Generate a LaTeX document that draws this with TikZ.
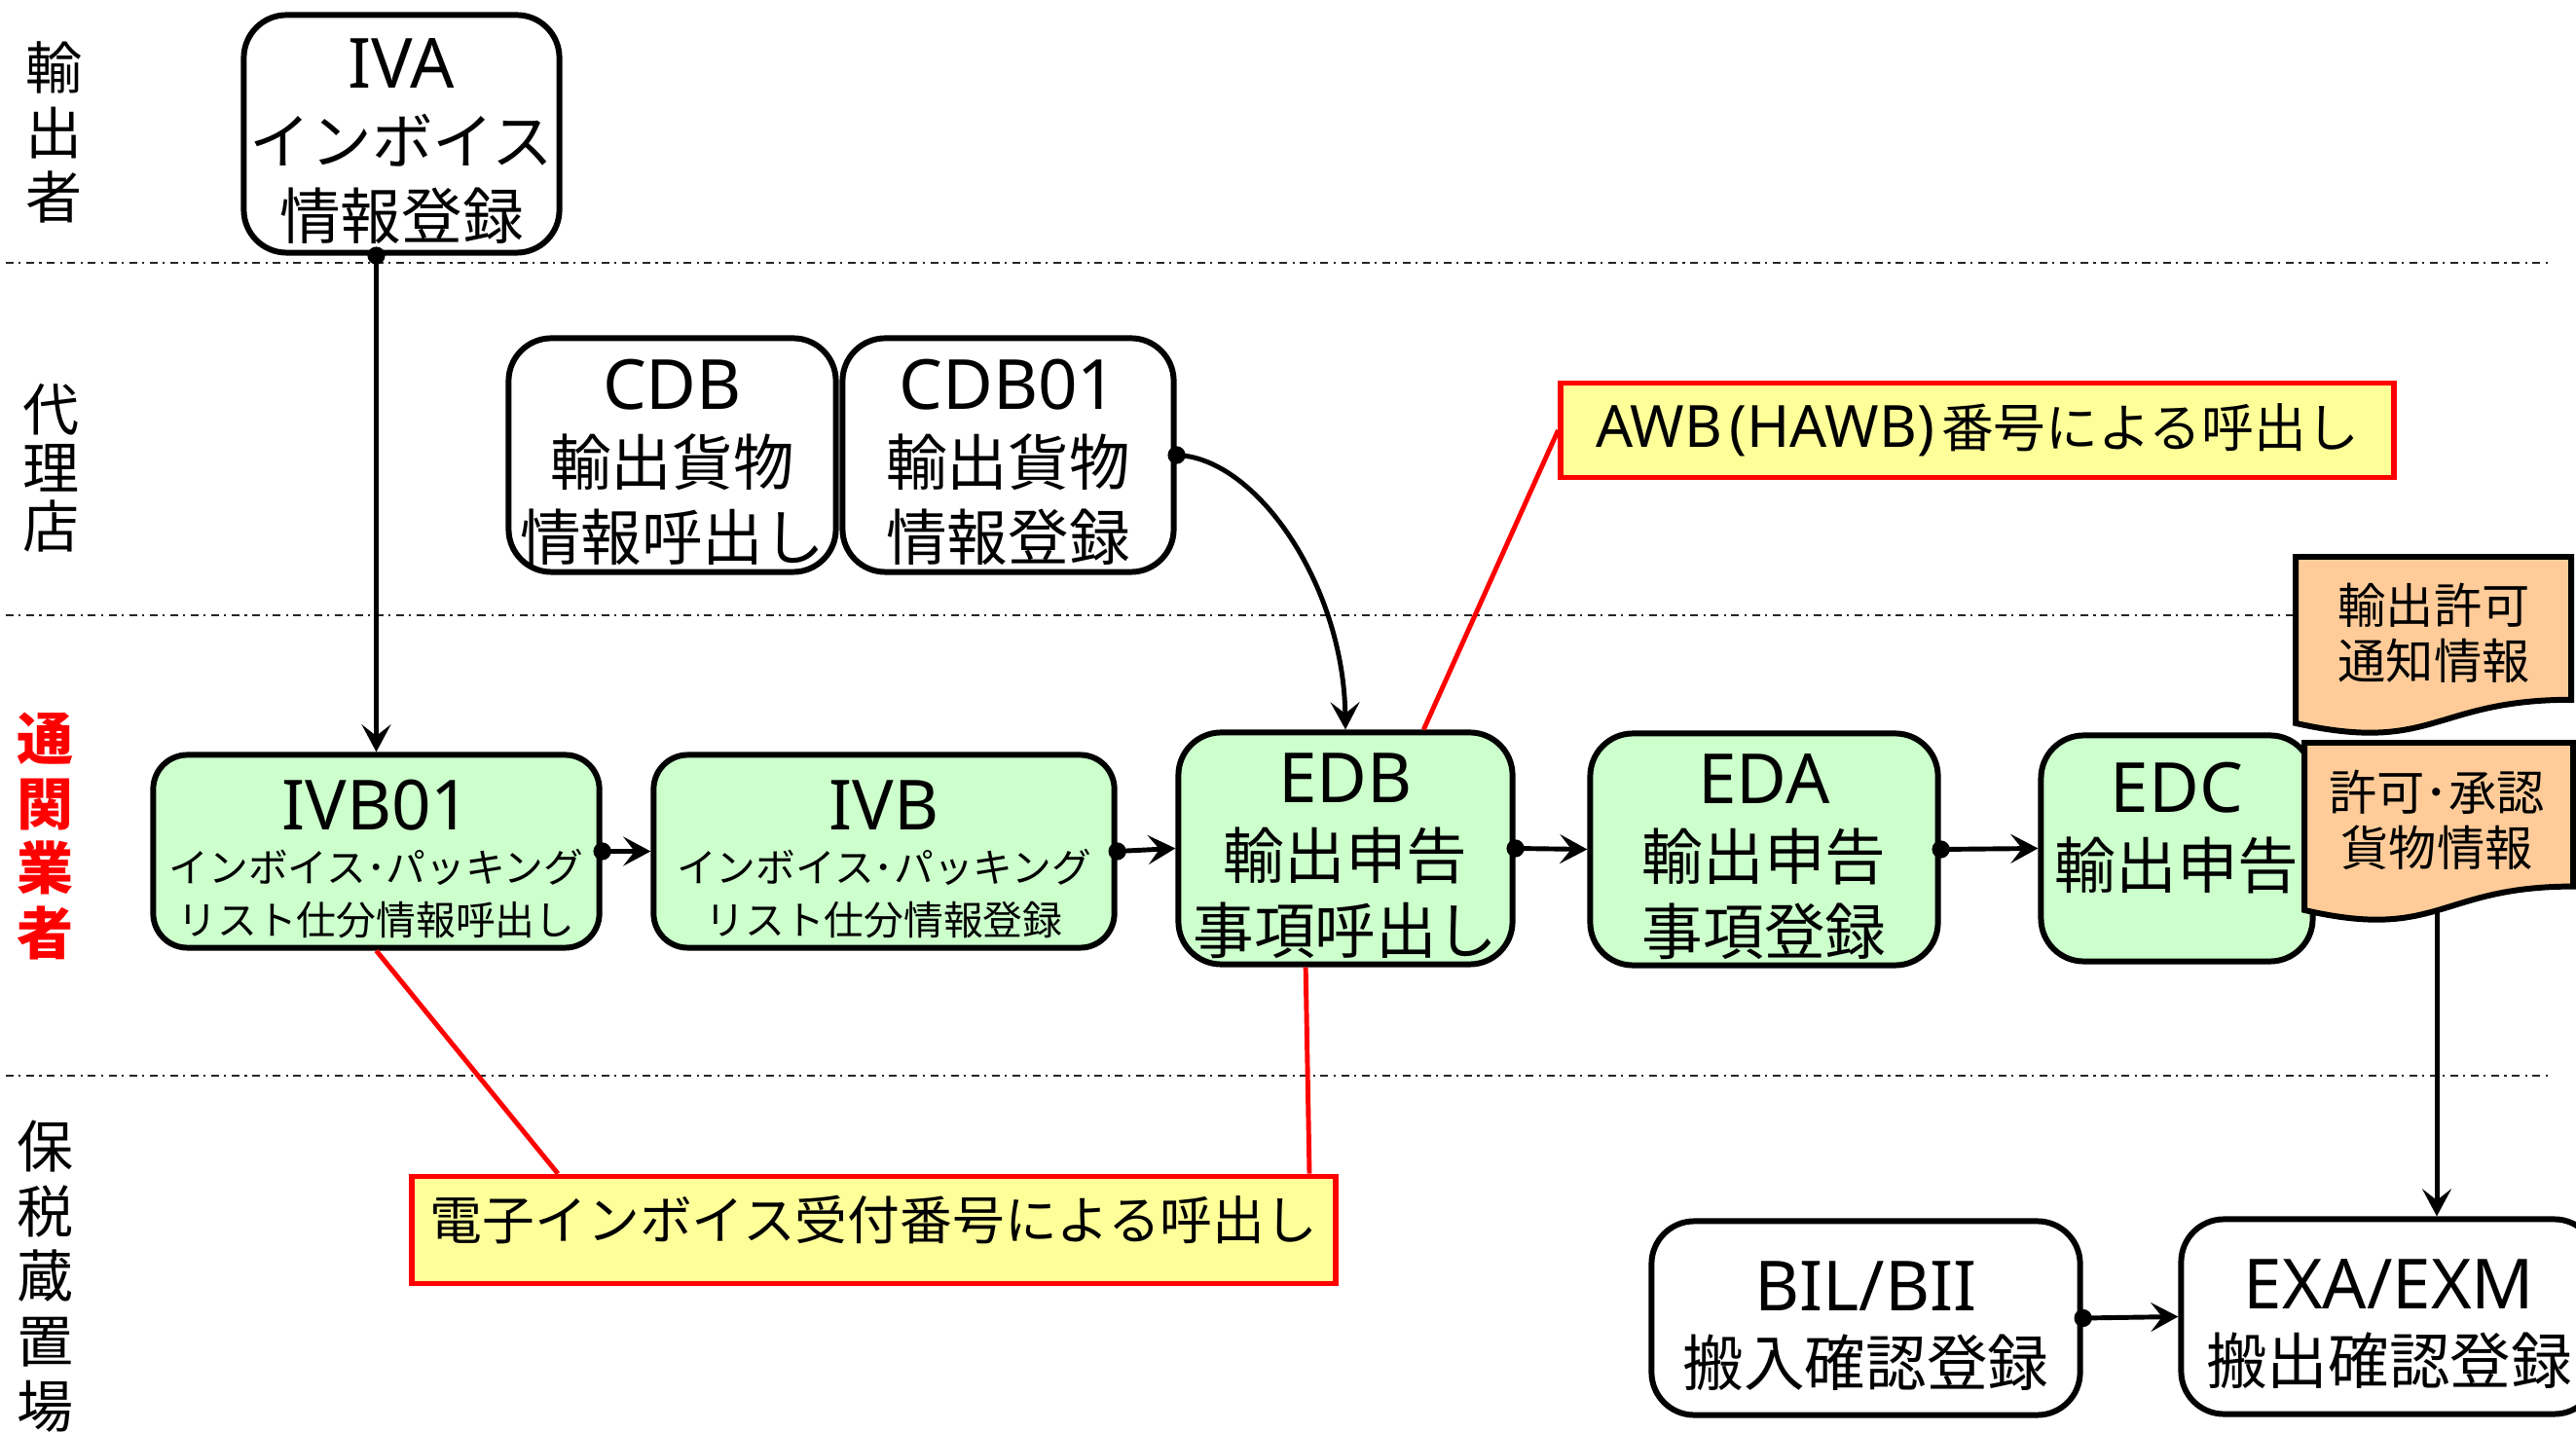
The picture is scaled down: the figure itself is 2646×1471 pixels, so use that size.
\documentclass[tikz,border=0pt]{standalone}
\usepackage{fontspec}
\setmainfont{Noto Sans CJK JP}
\newfontfamily\lat{Noto Sans}
\usetikzlibrary{arrows.meta,calc}
\definecolor{gfill}{RGB}{204,255,204}
\definecolor{yfill}{RGB}{255,255,153}
\definecolor{ofill}{RGB}{255,204,153}
\definecolor{rline}{RGB}{255,0,0}
\newcommand\ttl[1]{{\lat\fontsize{20.2pt}{22pt}\selectfont\rule{0pt}{19pt}#1}}
\begin{document}
\begin{tikzpicture}[x=0.01cm,y=-0.01cm,
  lanesep/.style={draw=black!85,line width=0.55pt,dash pattern=on 2.3pt off 1.5pt on 0.6pt off 1.6pt},
  lanelbl/.style={align=center,inner sep=0pt,font=\fontsize{16.5pt}{19pt}\selectfont},
  box/.style={draw,line width=1.7pt,rounded corners=12.5pt,align=center,inner sep=0pt,font=\fontsize{17.8pt}{22pt}\selectfont},
  gbox/.style={box,fill=gfill},
  sbox/.style={rounded corners=10pt,font=\fontsize{11.6pt}{15.4pt}\selectfont},
  txt/.style={align=center,inner sep=0pt,font=\fontsize{17.8pt}{22pt}\selectfont},
  callout/.style={draw=rline,fill=yfill,line width=1.6pt,inner sep=0pt,font=\fontsize{15.3pt}{18pt}\selectfont},
  callink/.style={draw=rline,line width=1.4pt},
  conn/.style={line width=1.4pt,-{Stealth[length=8pt,width=8.5pt,inset=3.3pt]}},
  docshape/.style={fill=ofill,draw=black,line width=1.7pt},
  doctext/.style={align=center,inner sep=0pt,font=\fontsize{14pt}{16.2pt}\selectfont}
]
\useasboundingbox (0,0) rectangle (2646,1471);
\clip (0,0) rectangle (2646,1471);
\fill[white] (0,0) rectangle (2646,1471);

% lane separators
\draw[lanesep] (6,270) -- (2619,270);
\draw[lanesep] (6,632) -- (2400,632);
\draw[lanesep] (6,1105) -- (2619,1105);

% lane labels
\node[lanelbl] (l1) at (56,136) {輸\\出\\者};
\node[lanelbl,font=\fontsize{16.5pt}{17pt}\selectfont] (l2) at (53,481) {代\\理\\店};
\node[lanelbl,text=rline,font=\bfseries\fontsize{16.5pt}{19pt}\selectfont] (l3) at (47,859) {通\\関\\業\\者};
\node[lanelbl] (l4) at (47,1311) {保\\税\\蔵\\置\\場};

% boxes
\node[box,minimum width=3.24cm,minimum height=2.44cm] (iva) at (412.5,137.5) {\ttl{IVA}\\インボイス\\情報登録};
\node[box,minimum width=3.36cm,minimum height=2.40cm] (cdb) at (690.5,467.5) {\ttl{CDB}\\輸出貨物\\情報呼出し};
\node[box,minimum width=3.40cm,minimum height=2.40cm] (cdb01) at (1035.5,467.5) {\ttl{CDB01}\\輸出貨物\\情報登録};
\node[gbox,sbox,minimum width=4.58cm,minimum height=1.98cm] (ivb01) at (386.5,874.5) {\ttl{IVB01}\\インボイス･パッキング\\リスト仕分情報呼出し};
\node[gbox,sbox,minimum width=4.73cm,minimum height=1.98cm] (ivb) at (908,874.5) {\ttl{IVB}\\インボイス･パッキング\\リスト仕分情報登録};
\node[gbox,minimum width=3.43cm,minimum height=2.38cm] (edb) at (1382,871.5) {\ttl{EDB}\\輸出申告\\事項呼出し};
\node[gbox,minimum width=3.57cm,minimum height=2.38cm] (eda) at (1812,872.5) {\ttl{EDA}\\輸出申告\\事項登録};
\node[gbox,minimum width=2.79cm,minimum height=2.32cm] (edc) at (2236,871.5) {};
\node[txt] (edct) at (2236,843) {\ttl{EDC}\\輸出申告};
\node[box,minimum width=4.40cm,minimum height=1.99cm] (bil) at (1916.5,1354) {\ttl{BIL/BII}\\搬入確認登録};
\node[box,minimum width=4.27cm,minimum height=2.00cm] (exa) at (2454,1352.5) {\ttl{EXA/EXM}\\搬出確認登録};

% documents
\filldraw[docshape] (2358,572) -- (2641,572) -- (2641,718.8) .. controls (2499.5,718.8) and (2499.5,774.7) .. (2358,742.9) -- cycle;
\node[doctext] (d1t) at (2500,650) {輸出許可\\通知情報};
\filldraw[docshape] (2367,763) -- (2643,763) -- (2643,910.6) .. controls (2505,910.6) and (2505,966.8) .. (2367,934.9) -- cycle;
\node[doctext] (d2t) at (2503,842.5) {許可･承認\\貨物情報};
\coordinate (d2b) at (2503,935);

% callouts
\node[callout,minimum width=8.55cm,minimum height=0.97cm] (awb) at (2031,442) {{\lat\fontsize{17pt}{18pt}\selectfont AWB\hspace{0.12em}(HAWB)\hspace{0.12em}}番号による呼出し};
\node[callout,minimum width=9.48cm,minimum height=1.10cm,text depth=7.5pt] (ecall) at (897.5,1263.5) {電子インボイス受付番号による呼出し};

\draw[callink] (awb.west) -- ($(edb.north west)!0.73!(edb.north east)$);
\draw[callink] (ivb01.south) -- ($(ecall.north west)!0.16!(ecall.north east)$);
\draw[callink] ($(edb.south west)!0.383!(edb.south east)$) -- ($(ecall.north west)!0.969!(ecall.north east)$);

% connectors
\draw[conn] (iva.south -| ivb01.north) -- (ivb01.north);
\fill (iva.south -| ivb01.north) circle[radius=2.6pt];
\draw[conn] (ivb01.east) -- (ivb.west);
\fill (ivb01.east) circle[radius=2.6pt];
\draw[conn] (ivb.east) -- (edb.west);
\fill (ivb.east) circle[radius=2.6pt];
\draw[conn] (edb.east) -- (eda.west);
\fill (edb.east) circle[radius=2.6pt];
\draw[conn] (eda.east) -- (edc.west);
\fill (eda.east) circle[radius=2.6pt];
\draw[conn] (cdb01.east) .. controls (1290,470) and (1380,600) .. (edb.north);
\fill (cdb01.east) circle[radius=2.6pt];
\draw[conn] (d2b) -- (d2b |- exa.north);
\draw[conn] (bil.east) -- (exa.west);
\fill (bil.east) circle[radius=2.6pt];
\end{tikzpicture}
\end{document}
